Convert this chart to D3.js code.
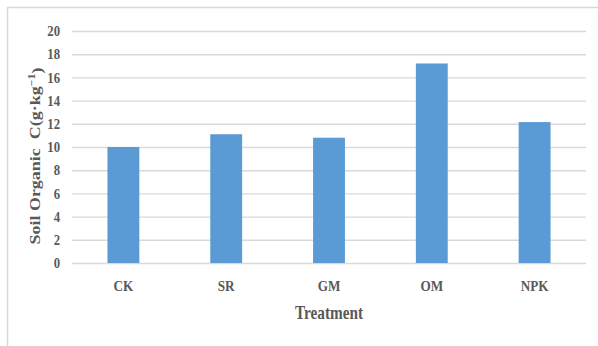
<!DOCTYPE html>
<html><head><meta charset="utf-8">
<script src="https://cdn.jsdelivr.net/npm/d3@7"></script>
<style>body{margin:0;background:#fff}svg{display:block}</style>
</head><body>
<script>
const categories = ["CK","SR","GM","OM","NPK"];
const values = [10.0, 11.1, 10.8, 17.2, 12.15];
const yTicks = [0,2,4,6,8,10,12,14,16,18,20];
const xTitle = "Treatment";

(function(){
const W = 598, H = 346;
const svg = d3.select("body").append("svg").attr("width", W).attr("height", H);
const mLeft = 72, mRight = 586, mTop = 31, mBottom = 263;
const x = d3.scaleBand().domain(categories).range([mLeft, mRight]).paddingInner(0.69).paddingOuter(0.345);
const y = d3.scaleLinear().domain([0, 20]).range([mBottom, mTop]);
const textCol = "#595959";
const font = "'Liberation Serif','Times New Roman',serif";
const sx = 0.85;

// frame
svg.append("line").attr("x1",7).attr("x2",W).attr("y1",7.5).attr("y2",7.5).attr("stroke","#d9d9d9").attr("stroke-width",1.5);
svg.append("line").attr("x1",7.5).attr("x2",7.5).attr("y1",7).attr("y2",H).attr("stroke","#d9d9d9").attr("stroke-width",1.5);

// gridlines via axis
const gy = svg.append("g").attr("transform", `translate(${mLeft},0)`)
  .call(d3.axisLeft(y).tickValues(yTicks).tickSize(-(mRight-mLeft)).tickFormat(""));
gy.select(".domain").remove();
gy.selectAll(".tick line").attr("stroke","#d9d9d9").attr("stroke-width",1.4);

// bars
svg.selectAll("rect.bar").data(categories).enter().append("rect")
  .attr("class","bar")
  .attr("x", d => x(d)).attr("width", x.bandwidth())
  .attr("y", (d,i) => y(values[i])).attr("height", (d,i) => y(0) - y(values[i]))
  .attr("fill","#5B9BD5");

// y tick labels
svg.selectAll("text.yt").data(yTicks).enter().append("text")
  .attr("class","yt")
  .attr("transform", d => `translate(60,${y(d)}) scale(${sx},1)`)
  .attr("dy","0.34em").attr("text-anchor","end")
  .attr("font-family",font).attr("font-weight","bold").attr("font-size",15)
  .attr("fill",textCol).text(d => d);

// x category labels
svg.selectAll("text.xt").data(categories).enter().append("text")
  .attr("class","xt")
  .attr("transform", d => `translate(${x(d)+x.bandwidth()/2},291) scale(${sx},1)`)
  .attr("text-anchor","middle")
  .attr("font-family",font).attr("font-weight","bold").attr("font-size",15.5)
  .attr("fill",textCol).text(d => d);

// x title
svg.append("text")
  .attr("transform", `translate(${(mLeft+mRight)/2},319) scale(${sx},1)`)
  .attr("text-anchor","middle")
  .attr("font-family",font).attr("font-weight","bold").attr("font-size",18)
  .attr("fill",textCol).text(xTitle);

// y title
const yt = svg.append("text")
  .attr("transform", `translate(40,156) scale(${sx},1) rotate(-90)`)
  .attr("text-anchor","middle")
  .attr("font-family",font).attr("font-weight","bold").attr("font-size",18)
  .attr("fill",textCol);
yt.append("tspan").text("Soil Organic\u00A0\u00A0C(g\u00B7kg");
yt.append("tspan").attr("dy","-0.45em").attr("font-size",12).text("\u22121");
yt.append("tspan").attr("dy","0.45em").text(")");
})();
</script>
</body></html>
